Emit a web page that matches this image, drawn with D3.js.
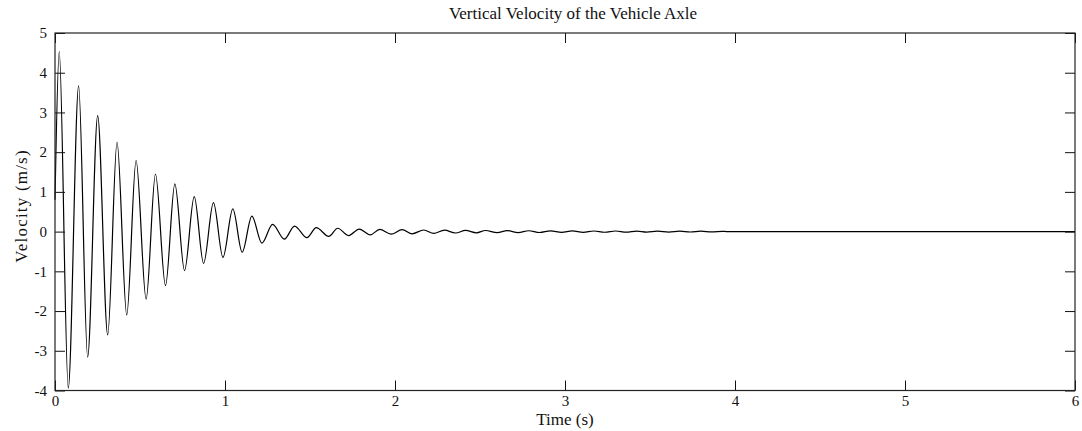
<!DOCTYPE html>
<html>
<head>
<meta charset="utf-8">
<script src="https://cdn.jsdelivr.net/npm/d3@7"></script>
<style>
  html, body { margin: 0; padding: 0; background: #fff; }
  svg { display: block; }
  text { font-family: "Liberation Serif", "Times New Roman", serif; fill: #111; }
</style>
</head>
<body>
<svg id="chart" width="1082" height="431"></svg>
<script>
// Data: extrema (time s, velocity m/s)
const time = [
  0, 0.025, 0.078, 0.139, 0.192, 0.251, 0.310, 0.365, 0.422, 0.477, 0.536,
  0.591, 0.650, 0.705, 0.762, 0.819, 0.874, 0.932, 0.988, 1.046, 1.101,
  1.158, 1.217, 1.280, 1.349, 1.409, 1.482, 1.537, 1.610, 1.663, 1.727,
  1.790, 1.855, 1.910, 1.977, 2.042, 2.101, 2.169, 2.228, 2.291, 2.356,
  2.415, 2.479, 2.532, 2.601, 2.660, 2.724, 2.787, 2.850, 2.915, 2.980,
  3.043, 3.107, 3.170, 3.233, 3.298, 3.360, 3.422, 3.481, 3.544, 3.610,
  3.675, 3.737, 3.799, 3.863, 3.928, 3.95, 6
];
const velocity = [
  0.8, 4.53, -3.94, 3.67, -3.16, 2.92, -2.60, 2.25, -2.10, 1.79, -1.70,
  1.45, -1.36, 1.20, -0.98, 0.88, -0.80, 0.73, -0.65, 0.57, -0.52,
  0.39, -0.29, 0.18, -0.19, 0.14, -0.15, 0.10, -0.12, 0.085, -0.10,
  0.065, -0.08, 0.055, -0.065, 0.05, -0.055, 0.04, -0.045, 0.035, -0.035,
  0.03, -0.03, 0.028, -0.028, 0.025, -0.025, 0.022, -0.022, 0.02, -0.02,
  0.018, -0.018, 0.016, -0.016, 0.015, -0.014, 0.013, -0.012, 0.012, -0.011,
  0.011, -0.01, 0.01, -0.008, 0.008, 0, 0
];
const xTicks = [0, 1, 2, 3, 4, 5, 6];
const yTicks = [-4, -3, -2, -1, 0, 1, 2, 3, 4, 5];
const titleText = "Vertical Velocity of the Vehicle Axle";
const xLabel = "Time (s)";
const yLabel = "Velocity (m/s)";

const svg = d3.select("#chart");
const mLeft = 55, mRight = 1075, mTop = 33, mBottom = 390.5;

const x = d3.scaleLinear().domain([0, 6]).range([mLeft, mRight]);
const y = d3.scaleLinear().domain([-4, 5]).range([mBottom, mTop]);

const points = time.map((t, i) => [t, velocity[i]]);

// data line
svg.append("path")
  .datum(points)
  .attr("fill", "none")
  .attr("stroke", "#000")
  .attr("stroke-width", 1.2)
  .attr("d", d3.line().x(d => x(d[0])).y(d => y(d[1])).curve(d3.curveMonotoneX));

// axes with inward ticks
const tickLen = 10;
const fmt = d => String(d);
const axStyle = g => {
  g.select(".domain").remove();
  g.selectAll(".tick line").attr("stroke", "#111").attr("stroke-width", 1);
};
const labStyle = g => g.selectAll("text").attr("font-size", 15).attr("fill", "#111")
  .attr("font-family", "Liberation Serif");
svg.append("g").attr("transform", `translate(0,${mBottom})`)
  .call(d3.axisBottom(x).tickValues(xTicks).tickSize(-tickLen).tickPadding(5).tickFormat(fmt))
  .call(axStyle).call(labStyle);
svg.append("g").attr("transform", `translate(0,${mTop})`)
  .call(d3.axisTop(x).tickValues(xTicks).tickSize(-tickLen).tickFormat(""))
  .call(axStyle);
svg.append("g").attr("transform", `translate(${mLeft},0)`)
  .call(d3.axisLeft(y).tickValues(yTicks).tickSize(-tickLen).tickPadding(8).tickFormat(fmt))
  .call(axStyle).call(labStyle);
svg.append("g").attr("transform", `translate(${mRight},0)`)
  .call(d3.axisRight(y).tickValues(yTicks).tickSize(-tickLen).tickFormat(""))
  .call(axStyle);

// frame
svg.append("rect")
  .attr("x", mLeft).attr("y", mTop)
  .attr("width", mRight - mLeft).attr("height", mBottom - mTop)
  .attr("fill", "none").attr("stroke", "#222").attr("stroke-width", 1.2);

// titles
svg.append("text").attr("x", 573).attr("y", 19).attr("text-anchor", "middle")
  .attr("font-size", 17).text(titleText);
svg.append("text").attr("x", (mLeft + mRight) / 2).attr("y", 425).attr("text-anchor", "middle")
  .attr("font-size", 17).text(xLabel);
svg.append("text").attr("transform", `translate(27,206) rotate(-90)`)
  .attr("text-anchor", "middle").attr("font-size", 17).attr("letter-spacing", 1.2).text(yLabel);
</script>
</body>
</html>
